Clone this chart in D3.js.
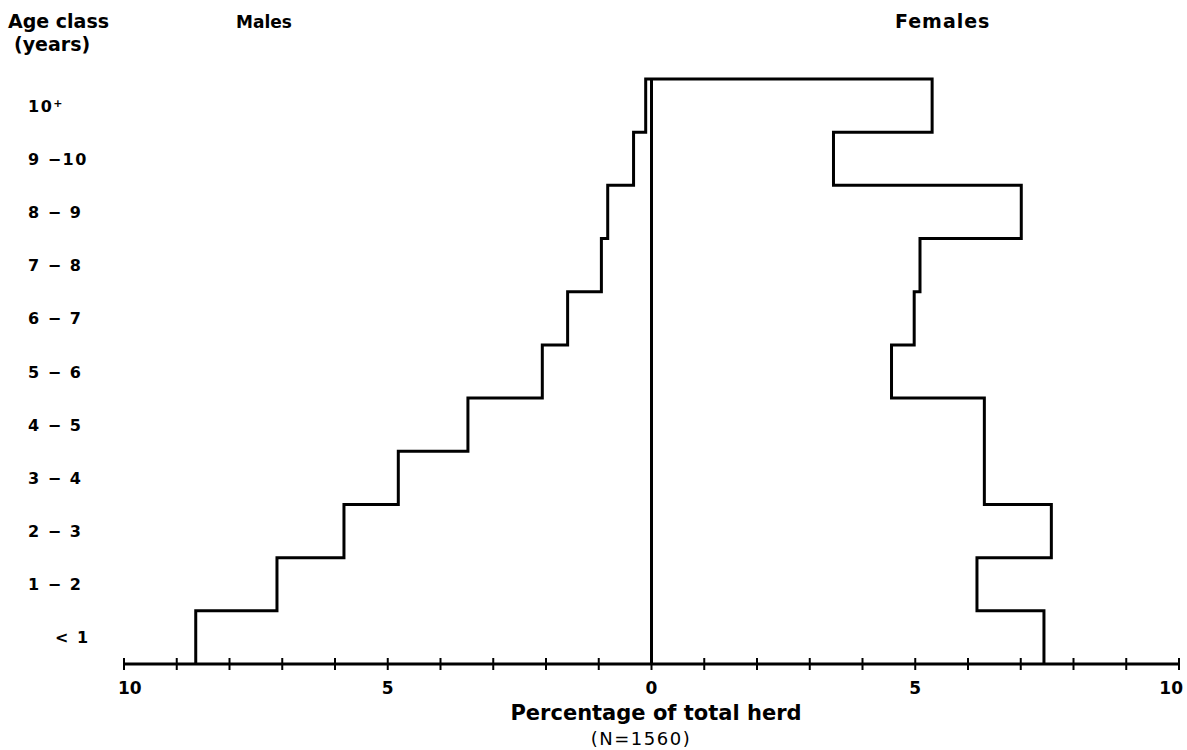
<!DOCTYPE html>
<html><head><meta charset="utf-8">
<script src="https://cdn.jsdelivr.net/npm/d3@7"></script>
<style>body{margin:0;background:#fff}svg{display:block}text{font-family:"DejaVu Sans",sans-serif;fill:#000}</style>
</head><body><svg id="c" width="1187" height="750"></svg>
<script>
const ageClasses = ["<1","1 − 2","2 − 3","3 − 4","4 − 5","5 − 6","6 − 7","7 − 8","8 − 9","9 −10","10+"];
const males   = [8.64, 7.10, 5.83, 4.80, 3.48, 2.07, 1.59, 0.95, 0.83, 0.34, 0.11];
const females = [7.44, 6.17, 7.58, 6.31, 6.31, 4.55, 4.98, 5.09, 7.01, 3.45, 5.32];
const tickValues = d3.range(-10, 11, 1);
const tickLabels = [-10, -5, 0, 5, 10];

const svg = d3.select("#c");
const x = d3.scaleLinear().domain([-10, 10]).range([124, 1179]);
const y = d3.scaleBand().domain(ageClasses).range([664, 79]).padding(0);

// outline path
const pts = [];
ageClasses.forEach((a, i) => {
  pts.push([x(-males[i]), y(a) + y.bandwidth()]);
  pts.push([x(-males[i]), y(a)]);
});
for (let i = ageClasses.length - 1; i >= 0; i--) {
  const a = ageClasses[i];
  pts.push([x(females[i]), y(a)]);
  pts.push([x(females[i]), y(a) + y.bandwidth()]);
}
svg.append("path").attr("d", d3.line()(pts))
  .attr("fill", "none").attr("stroke", "#000").attr("stroke-width", 3).attr("stroke-linejoin", "miter");

// zero line
svg.append("line").attr("x1", x(0)).attr("x2", x(0)).attr("y1", y.range()[1]).attr("y2", y.range()[0])
  .attr("stroke", "#000").attr("stroke-width", 3);

// x axis
const ax = svg.append("g");
ax.append("line").attr("x1", x(-10)).attr("x2", x(10)).attr("y1", 664).attr("y2", 664)
  .attr("stroke", "#000").attr("stroke-width", 3);
ax.selectAll("line.t").data(tickValues).join("line").attr("class", "t")
  .attr("x1", d => x(d)).attr("x2", d => x(d)).attr("y1", 658).attr("y2", 670)
  .attr("stroke", "#000").attr("stroke-width", 2);
ax.selectAll("text").data(tickLabels).join("text")
  .attr("x", d => d === 10 ? x(d) + 4 : (d === -10 ? x(d) - 6 : x(d)))
  .attr("y", 694)
  .attr("text-anchor", d => d === 10 ? "end" : (d === -10 ? "start" : "middle"))
  .attr("font-size", 17).attr("font-weight", "bold").text(d => Math.abs(d));

// age labels
svg.selectAll("text.age").data(ageClasses).join("text").attr("class", "age")
  .attr("x", d => d === "<1" ? 55 : 28).attr("y", d => y(d) + y.bandwidth() / 2 + 6)
  .attr("font-size", 16).attr("font-weight", "bold").attr("letter-spacing", 1.5)
  .each(function(d) {
    const t = d3.select(this);
    if (d === "10+") { t.text("10"); t.append("tspan").attr("font-size", 11).attr("dy", -5).text("+"); }
    else if (d === "<1") t.text("< 1");
    else t.text(d);
  });

// titles
svg.append("text").attr("x", 8).attr("y", 28).attr("font-size", 19).attr("font-weight", "bold").text("Age class");
svg.append("text").attr("x", 14).attr("y", 51).attr("font-size", 19).attr("font-weight", "bold").text("(years)");
svg.append("text").attr("x", 236).attr("y", 28).attr("font-size", 17).attr("font-weight", "bold").text("Males");
svg.append("text").attr("x", 895).attr("y", 28).attr("font-size", 19).attr("font-weight", "bold").attr("letter-spacing", 1).text("Females");
svg.append("text").attr("x", 656).attr("y", 720).attr("text-anchor", "middle").attr("font-size", 21).attr("font-weight", "bold").text("Percentage of total herd");
svg.append("text").attr("x", 641).attr("y", 745).attr("text-anchor", "middle").attr("font-size", 18).attr("letter-spacing", 1.5).text("(N=1560)");
</script></body></html>
